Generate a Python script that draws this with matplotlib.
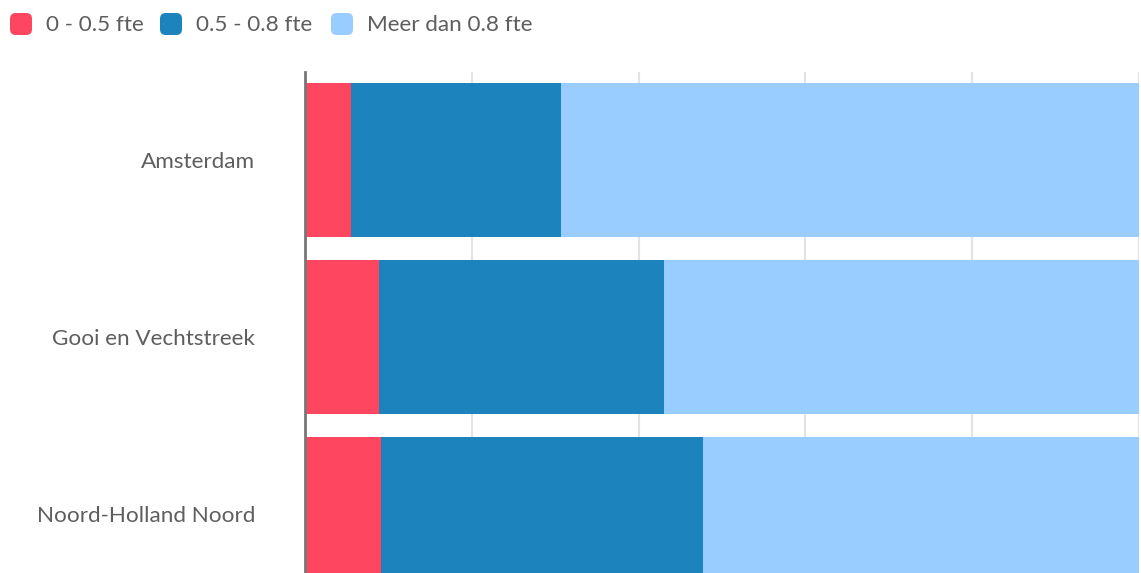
import matplotlib.pyplot as plt
from matplotlib.patches import FancyBboxPatch

regions = ["Amsterdam", "Gooi en Vechtstreek", "Noord-Holland Noord"]
series = ["0 - 0.5 fte", "0.5 - 0.8 fte", "Meer dan 0.8 fte"]
part_low = [5.5, 8.9, 9.1]
part_mid = [25.2, 34.1, 38.6]
part_high = [69.3, 57.0, 52.3]
colors = ["#FF4660", "#1C83BC", "#99CCFF"]

plt.rcParams['font.family'] = ['Lato', 'DejaVu Sans']
text_color = "#5e5e5e"

fig = plt.figure(figsize=(11.41, 5.73), dpi=100)
ax = fig.add_axes([305 / 1141, 0, 834 / 1141, 1 - 72 / 573])

ypos = range(len(regions))
left = [0] * len(regions)
for vals, col in zip([part_low, part_mid, part_high], colors):
    ax.barh(ypos, vals, left=left, height=0.87, color=col, zorder=2)
    left = [a + b for a, b in zip(left, vals)]

ax.set_xlim(0, 100)
ax.set_ylim(2.333, -0.5)
ax.set_xticks([0, 20, 40, 60, 80, 100])
ax.xaxis.grid(True, color="#e3e3e3", linewidth=1.5, zorder=0)
ax.tick_params(axis="x", length=0, labelbottom=False)
ax.set_yticks(list(ypos))
ax.set_yticklabels(regions, fontsize=16.2, color=text_color)
ax.tick_params(axis="y", length=0, pad=36)
for s in ["top", "right", "bottom"]:
    ax.spines[s].set_visible(False)
ax.spines["left"].set_color("#777777")
ax.spines["left"].set_linewidth(2)
ax.spines["left"].set_zorder(3)

# legend
W, H = 1141, 573
leg_x = [10, 160, 331]
for x0, name, col in zip(leg_x, series, colors):
    box = FancyBboxPatch((x0 / W, 1 - 35 / H), 22 / W, 22 / H,
                         boxstyle="round,pad=0,rounding_size=0.005",
                         transform=fig.transFigure, facecolor=col,
                         edgecolor="none", mutation_aspect=W / H)
    fig.patches.append(box)
    fig.text((x0 + 36) / W, 1 - 25 / H, name, fontsize=16.2, color=text_color,
             va="center", ha="left")

fig.savefig("out.png", dpi=100)
